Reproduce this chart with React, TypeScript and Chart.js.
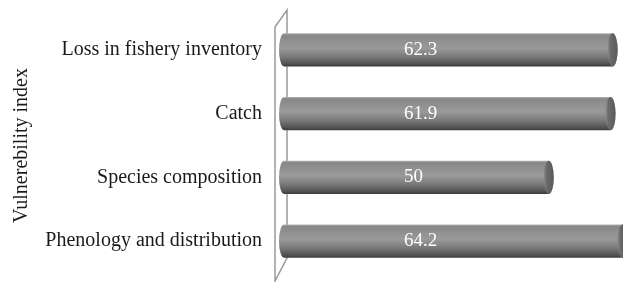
import React, { useEffect, useRef } from "react";
import { Chart, registerables } from "chart.js";

Chart.register(...registerables);

const categories: string[] = [
  "Loss in fishery inventory",
  "Catch",
  "Species composition",
  "Phenology and distribution",
];
const values: number[] = [62.3, 61.9, 50, 64.2];
const axisTitle = "Vulnerebility index";
const xMin = 0;
const xMax = 64.3;

const FONT = "'Liberation Serif', 'Times New Roman', serif";

const cylinderPlugin = {
  id: "cylinders",
  beforeDatasetsDraw(chart: any) {
    const { ctx, chartArea } = chart;
    const l = chartArea.left;
    ctx.save();
    ctx.strokeStyle = "#9a9a9a";
    ctx.lineWidth = 1.5;
    ctx.beginPath();
    ctx.moveTo(l - 14, chartArea.top + 9);
    ctx.lineTo(l - 2, chartArea.top - 8);
    ctx.lineTo(l - 2, chartArea.bottom - 15);
    ctx.lineTo(l - 14, chartArea.bottom + 8);
    ctx.closePath();
    ctx.stroke();
    ctx.restore();
  },
  afterDatasetsDraw(chart: any) {
    const { ctx, chartArea } = chart;
    const meta = chart.getDatasetMeta(0);
    ctx.save();
    meta.data.forEach((el: any, i: number) => {
      const p = el.getProps(["x", "y", "base", "height"], true);
      const top = p.y - p.height / 2;
      const bot = p.y + p.height / 2;
      const ry = p.height / 2;
      const rx = 5;
      const xL = p.base - 5;
      const xR = p.x;
      const g = ctx.createLinearGradient(0, top, 0, bot);
      g.addColorStop(0, "#b4b4b4");
      g.addColorStop(0.05, "#888888");
      g.addColorStop(0.3, "#939393");
      g.addColorStop(0.45, "#9a9a9a");
      g.addColorStop(0.7, "#7a7a7a");
      g.addColorStop(0.9, "#565656");
      g.addColorStop(1, "#3c3c3c");
      ctx.beginPath();
      ctx.moveTo(xL, top);
      ctx.lineTo(xR, top);
      ctx.ellipse(xR, p.y, rx, ry, 0, -Math.PI / 2, Math.PI / 2, false);
      ctx.lineTo(xL, bot);
      ctx.ellipse(xL, p.y, rx, ry, 0, Math.PI / 2, (3 * Math.PI) / 2, false);
      ctx.closePath();
      ctx.fillStyle = g;
      ctx.fill();
      // end cap
      const g2 = ctx.createLinearGradient(xR - rx, 0, xR + rx, 0);
      g2.addColorStop(0, "#8a8a8a");
      g2.addColorStop(0.3, "#6a6a6a");
      g2.addColorStop(1, "#5a5a5a");
      ctx.beginPath();
      ctx.ellipse(xR, p.y, rx, ry, 0, 0, Math.PI * 2);
      ctx.fillStyle = g2;
      ctx.fill();
      // label
      ctx.fillStyle = "#ffffff";
      ctx.font = `19px ${FONT}`;
      ctx.textAlign = "left";
      ctx.textBaseline = "middle";
      ctx.fillText(String(values[i]), chartArea.left + 115, p.y);
    });
    ctx.restore();
  },
};

export default function App() {
  const ref = useRef<HTMLCanvasElement | null>(null);
  useEffect(() => {
    if (!ref.current) return;
    const chart = new Chart(ref.current, {
      type: "bar",
      data: {
        labels: categories,
        datasets: [
          {
            data: values,
            backgroundColor: "rgba(0,0,0,0)",
            borderWidth: 0,
            categoryPercentage: 1,
            barPercentage: 0.52,
          },
        ],
      },
      options: {
        indexAxis: "y",
        responsive: false,
        animation: false,
        layout: { padding: { top: 18, bottom: 9, left: 0, right: 0 } },
        plugins: { legend: { display: false }, tooltip: { enabled: false } },
        scales: {
          x: { display: false, min: xMin, max: xMax },
          y: {
            grid: { display: false, drawTicks: false },
            border: { display: false },
            ticks: {
              padding: 27,
              color: "#1a1a1a",
              font: { family: FONT, size: 20 },
            },
            title: {
              display: true,
              text: axisTitle,
              color: "#1a1a1a",
              font: { family: FONT, size: 20, lineHeight: 1.2 },
              padding: { top: 10, bottom: 0 },
            },
            afterFit(scale: any) {
              scale.width = 289;
              scale.paddingTop = 0;
              scale.paddingBottom = 0;
            },
          },
        },
      },
      plugins: [cylinderPlugin],
    } as any);
    return () => chart.destroy();
  }, []);
  return (
    <div style={{ position: "absolute", left: 0, top: 0, width: 623, height: 282, background: "#fff" }}>
      <canvas ref={ref} width={623} height={282} style={{ display: "block" }} />
    </div>
  );
}
